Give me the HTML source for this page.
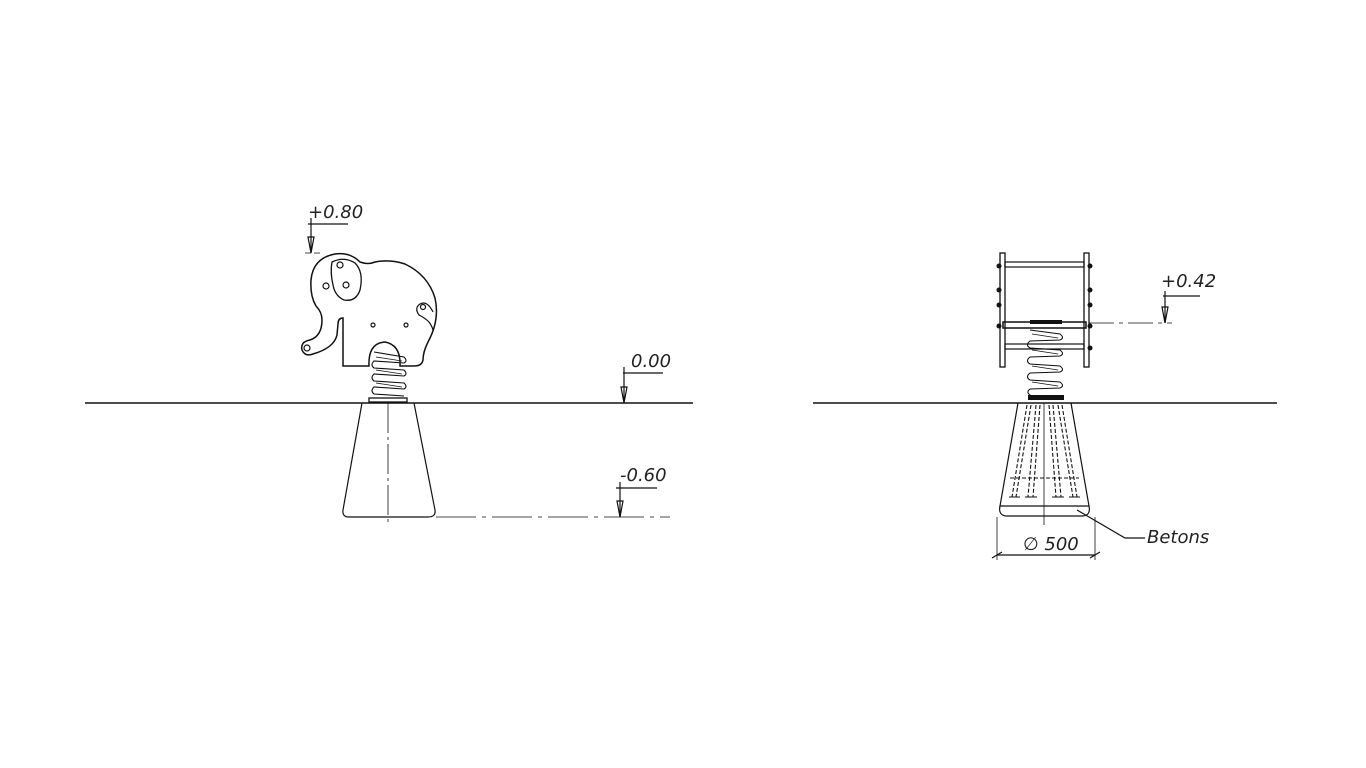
<!DOCTYPE html>
<html><head><meta charset="utf-8"><style>
html,body{margin:0;padding:0;background:#fff;width:1366px;height:768px;overflow:hidden}
svg{display:block}
text{font-family:"DejaVu Sans","Liberation Sans",sans-serif;font-style:italic;fill:#222;font-size:18px}
</style></head><body>
<svg width="1366" height="768" viewBox="0 0 1366 768" xmlns="http://www.w3.org/2000/svg">
<g stroke="#111" fill="none" stroke-width="1.2">
<line x1="85" y1="403" x2="693" y2="403" stroke-width="1.6"/>
<line x1="813" y1="403" x2="1277" y2="403" stroke-width="1.6"/>

<path d="M362 403 L343 510 Q342 517 349 517 L428 517 Q436 517 435 510 L414 403"/>
<line x1="388" y1="403" x2="388" y2="523" stroke-dasharray="30 4 3 4" stroke-width="0.8"/>
<line x1="436" y1="517" x2="670" y2="517" stroke-dasharray="40 6 4 6" stroke-width="0.8"/>
<rect x="369" y="398" width="38" height="4" stroke-width="1.3"/>
<path d="M374 352 L404 357 Q408 361 404 363 L374 361 Q370 365 374 368 L404 370 Q408 374 404 376 L374 374 Q370 378 374 381 L404 383 Q408 387 404 389 L374 387 Q370 391 374 394 L404 396" stroke-width="1.1"/>
<path d="M376 357 L402 361 M376 370 L402 374 M376 383 L402 387" stroke-width="0.8"/>
<path d="M343 366 L343 318 Q338 318 338 324 L337 335 Q334 348 313 354 Q305 357 302 350 Q300 342 310 340 Q322 336 322 320 Q322 312 316 306 Q310 296 311 280 Q313 258 335 254 Q350 252 360 262 Q368 265 375 262 Q390 259 405 264 Q428 275 435 298 Q440 320 428 342 Q423 352 423 360 Q422 366 414 366 L400 366 Q401 345 385 342 Q368 343 369 366 Z" stroke-width="1.5"/>
<path d="M332 262 Q344 256 355 263 Q364 272 360 290 Q356 302 344 300 Q335 296 333 285 Q330 272 332 262 Z" stroke-width="1.3"/>
<circle cx="340" cy="265" r="3"/><circle cx="326" cy="286" r="3"/><circle cx="346" cy="285" r="3"/>
<circle cx="307" cy="348" r="3"/>
<circle cx="373" cy="325" r="2"/><circle cx="406" cy="325" r="2"/>
<path d="M433 312 Q427 300 420 304 Q414 308 419 315 Q425 318 429 322 Q432 326 433 330" stroke-width="1.2"/>
<circle cx="423" cy="307" r="2.5"/>

<line x1="308" y1="224" x2="348" y2="224"/>
<line x1="311" y1="218" x2="311" y2="253"/>
<path d="M308 237 L311 253 L314 237 Z"/>
<line x1="305" y1="253" x2="322" y2="253" stroke-dasharray="6 3" stroke-width="0.8"/>
<line x1="623" y1="373" x2="663" y2="373"/>
<line x1="624" y1="367" x2="624" y2="403"/>
<path d="M621 387 L624 403 L627 387 Z"/>
<line x1="616" y1="488" x2="657" y2="488"/>
<line x1="620" y1="482" x2="620" y2="517"/>
<path d="M617 501 L620 517 L623 501 Z"/>

<rect x="1000" y="253" width="5" height="114" stroke-width="1.3"/>
<rect x="1084" y="253" width="5" height="114" stroke-width="1.3"/>
<rect x="1005" y="262" width="79" height="5"/>
<rect x="1003" y="322" width="83" height="6" stroke-width="1.5"/>
<rect x="1005" y="344" width="79" height="5"/>
<g fill="#111" stroke="none">
<circle cx="999" cy="266" r="2.5"/><circle cx="999" cy="290" r="2.5"/><circle cx="999" cy="305" r="2.5"/><circle cx="999" cy="326" r="2.5"/>
<circle cx="1090" cy="266" r="2.5"/><circle cx="1090" cy="290" r="2.5"/><circle cx="1090" cy="305" r="2.5"/><circle cx="1090" cy="326" r="2.5"/><circle cx="1090" cy="348" r="2.5"/>
<rect x="1030" y="320" width="32" height="4"/>
<rect x="1028" y="395" width="36" height="5"/>
</g>
<path d="M1030 330 L1060 334 Q1065 338 1060 340 L1030 341 Q1025 345 1030 348 L1060 350 Q1065 354 1060 356 L1030 357 Q1025 361 1030 364 L1060 366 Q1065 370 1060 372 L1030 373 Q1025 377 1030 380 L1060 382 Q1065 386 1060 388 L1030 389 Q1025 393 1032 396" stroke-width="1.1"/>
<path d="M1032 334 L1058 338 M1032 350 L1058 354 M1032 366 L1058 370 M1032 382 L1058 386" stroke-width="0.7"/>
<line x1="1089" y1="323" x2="1172" y2="323" stroke-dasharray="25 5 4 5" stroke-width="0.8"/>
<path d="M1018 403 L1000 506 L1089 506 L1071 403"/>
<path d="M1000 506 Q998 515 1006 516 L1083 516 Q1091 515 1089 506"/>
<line x1="1044" y1="403" x2="1044" y2="525" stroke-width="0.8"/>
<g stroke-dasharray="4 2" stroke-width="1.1">
<line x1="1027" y1="405" x2="1012" y2="497"/><line x1="1031" y1="405" x2="1016" y2="497"/>
<line x1="1036" y1="405" x2="1028" y2="497"/><line x1="1040" y1="405" x2="1033" y2="497"/>
<line x1="1049" y1="405" x2="1056" y2="497"/><line x1="1053" y1="405" x2="1061" y2="497"/>
<line x1="1058" y1="405" x2="1073" y2="497"/><line x1="1062" y1="405" x2="1077" y2="497"/>
<line x1="1010" y1="478" x2="1079" y2="478"/>
</g>
<path d="M1009 497 H1020 M1025 497 H1037 M1052 497 H1064 M1069 497 H1080" stroke-width="1"/>
<line x1="1163" y1="296" x2="1200" y2="296"/>
<line x1="1165" y1="291" x2="1165" y2="323"/>
<path d="M1162 307 L1165 323 L1168 307 Z"/>
<line x1="997" y1="517" x2="997" y2="560" stroke-width="0.8"/>
<line x1="1095" y1="517" x2="1095" y2="560" stroke-width="0.8"/>
<line x1="997" y1="555" x2="1095" y2="555"/>
<line x1="992" y1="558" x2="1002" y2="552"/><line x1="1090" y1="558" x2="1100" y2="552"/>
<path d="M1077 510 L1125 538 L1145 538"/>
</g>
<text x="308" y="218">+0.80</text>
<text x="631" y="367">0.00</text>
<text x="620" y="481">-0.60</text>
<text x="1161" y="287">+0.42</text>
<text x="1023" y="550">∅ 500</text>
<text x="1147" y="543">Betons</text>
</svg>
</body></html>
